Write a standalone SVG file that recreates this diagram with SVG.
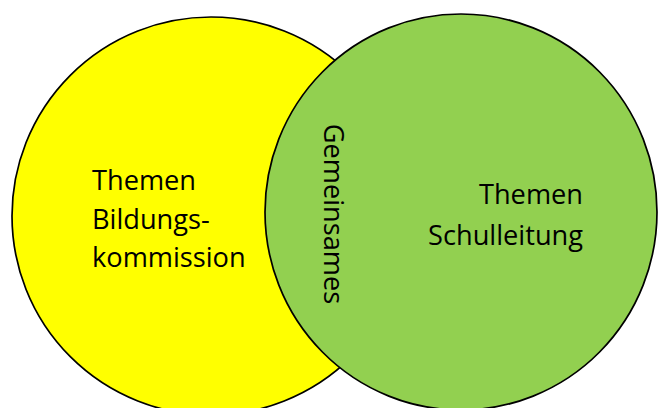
<svg xmlns="http://www.w3.org/2000/svg" width="658" height="408" viewBox="0 0 658 408">
<style>
.c{stroke:#000;stroke-width:1.7}
.t{font-family:"Open Sans","Noto Sans",sans-serif;font-size:27.2px;fill:#000}
</style>
<rect width="658" height="408" fill="#fff"/>
<g id="bildungskommission">
<ellipse class="c" cx="211" cy="216" rx="199" ry="199" fill="#FFFF00"/>
<text class="t" x="92" y="190">Themen</text>
<text class="t" x="92" y="229">Bildungs-</text>
<text class="t" x="92" y="267">kommission</text>
</g>
<g id="schulleitung">
<ellipse class="c" cx="461" cy="212" rx="196" ry="198" fill="#92D050"/>
<text class="t" x="583" y="204" text-anchor="end">Themen</text>
<text class="t" x="583" y="245" text-anchor="end">Schulleitung</text>
</g>
<g id="gemeinsames">
<text class="t" x="0" y="0" text-anchor="middle" transform="translate(324,214) rotate(90)">Gemeinsames</text>
</g>
<g id="connectors"/>
</svg>
